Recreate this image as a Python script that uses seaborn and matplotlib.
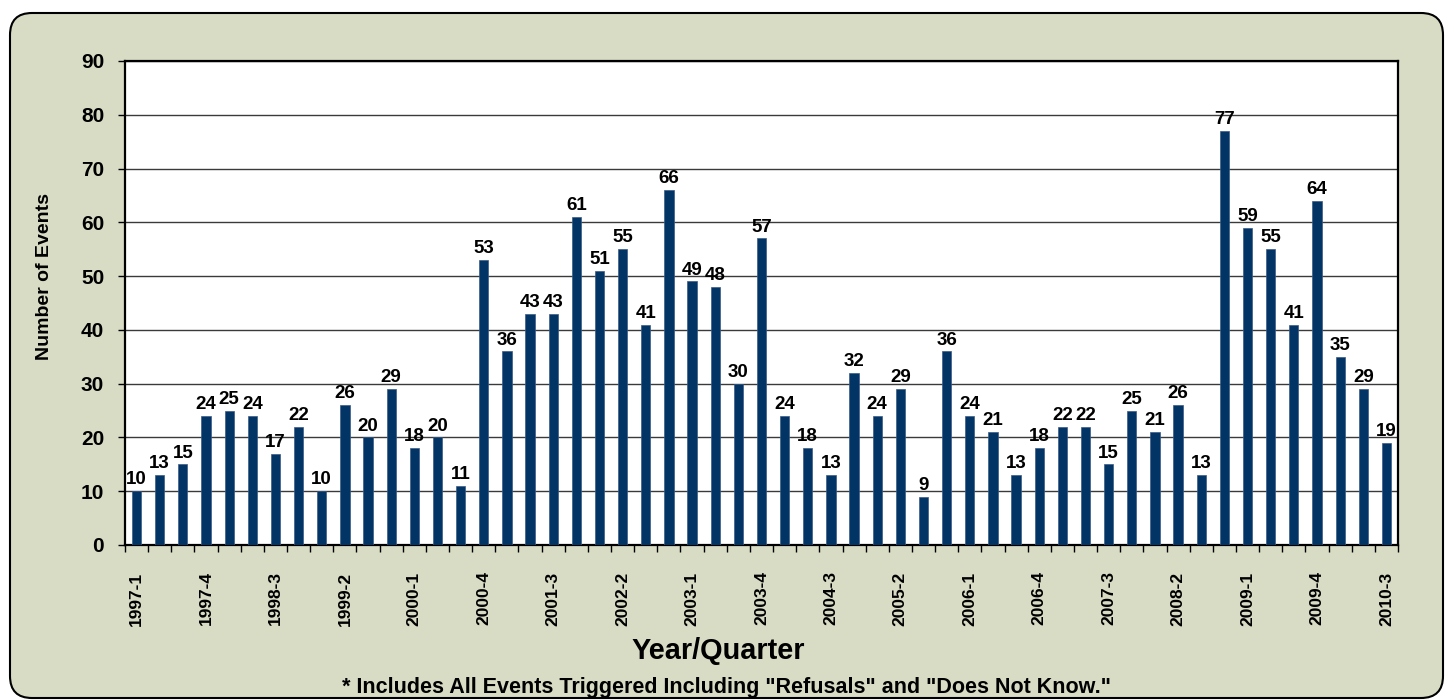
import numpy as np
import pandas as pd
import matplotlib
matplotlib.use("Agg")
import matplotlib.pyplot as plt
import matplotlib.transforms as mtransforms
from matplotlib.patches import FancyBboxPatch
from matplotlib.ticker import FixedLocator
import seaborn as sns

# ---------------- data ----------------
quarters = [f"{y}-{q}" for y in range(1997, 2011) for q in range(1, 5)][:55]
events = [10, 13, 15, 24, 25, 24, 17, 22, 10, 26, 20, 29, 18, 20, 11,
          53, 36, 43, 43, 61, 51, 55, 41, 66, 49, 48, 30, 57, 24, 18,
          13, 32, 24, 29, 9, 36, 24, 21, 13, 18, 22, 22, 15, 25, 21,
          26, 13, 77, 59, 55, 41, 64, 35, 29, 19]
label_every = 3
y_ticks = [0, 10, 20, 30, 40, 50, 60, 70, 80, 90]
x_title = "Year/Quarter"
y_title = "Number of Events"
footnote = '* Includes All Events Triggered Including "Refusals" and "Does Not Know."'

df = pd.DataFrame({"quarter": quarters, "events": events})

# ---------------- style ----------------
sns.set_style("ticks")
plt.rcParams["font.family"] = ["Liberation Sans", "DejaVu Sans"]
plt.rcParams["font.weight"] = "bold"
for k in ["text.color", "axes.labelcolor", "xtick.color", "ytick.color"]:
    plt.rcParams[k] = "black"

BAR = "#023466"
FRAME = "#D9DCC5"

fig = plt.figure(figsize=(14.51, 7.0), dpi=100)
fig.patch.set_facecolor("white")

# rounded background frame (pixel coordinates)
frame = FancyBboxPatch((10, 2), 1433, 685,
                       boxstyle="round,pad=0,rounding_size=22",
                       transform=mtransforms.IdentityTransform(),
                       facecolor=FRAME, edgecolor="black", linewidth=1.5,
                       zorder=-10)
fig.patches.append(frame)

ax = fig.add_axes([125 / 1451, 1 - 545 / 700, (1398 - 125) / 1451, (545 - 61) / 700])
ax.set_facecolor("white")

sns.barplot(data=df, x="quarter", y="events", order=quarters, color=BAR,
            saturation=1, width=0.4, edgecolor="#3a5a85", linewidth=0.5,
            ax=ax, zorder=3)

for c in ax.containers:
    ax.bar_label(c, padding=2, fontsize=13.5, fontweight="bold", color="black")

ax.set_xlim(-0.5, len(quarters) - 0.5)
ax.set_ylim(0, 90)
ax.set_yticks(y_ticks)
ax.set_yticklabels([str(v) for v in y_ticks], fontsize=15, fontweight="bold")

pos = list(range(0, len(quarters), label_every))
ax.xaxis.set_major_locator(FixedLocator(pos))
ax.set_xticklabels([quarters[i] for i in pos], rotation=90, fontsize=12.5,
                   fontweight="bold")
ax.xaxis.set_minor_locator(FixedLocator(np.arange(-0.5, len(quarters), 1.0)))
ax.tick_params(axis="x", which="major", length=0, pad=19)
ax.tick_params(axis="x", which="minor", length=5, width=1, color="black",
               direction="out")
ax.tick_params(axis="y", length=5, width=1, color="black", direction="out",
               pad=10)

ax.yaxis.grid(True, color="#3a3a3a", linewidth=1.0, zorder=0)
ax.set_axisbelow(True)
for s in ax.spines.values():
    s.set_visible(True)
    s.set_color("black")
    s.set_linewidth(1.6)

ax.set_xlabel("")
ax.set_ylabel("")

fig.text(45 / 1451, 1 - 277 / 700, y_title, rotation=90, ha="center",
         va="center", fontsize=14, fontweight="bold")
fig.text(718 / 1451, 1 - 651 / 700, x_title, ha="center", va="center",
         fontsize=20.8, fontweight="bold")
fig.text(727 / 1451, 1 - 687 / 700, footnote, ha="center", va="center",
         fontsize=15.5, fontweight="bold")

fig.savefig("out.png", dpi=100, facecolor=fig.get_facecolor())
